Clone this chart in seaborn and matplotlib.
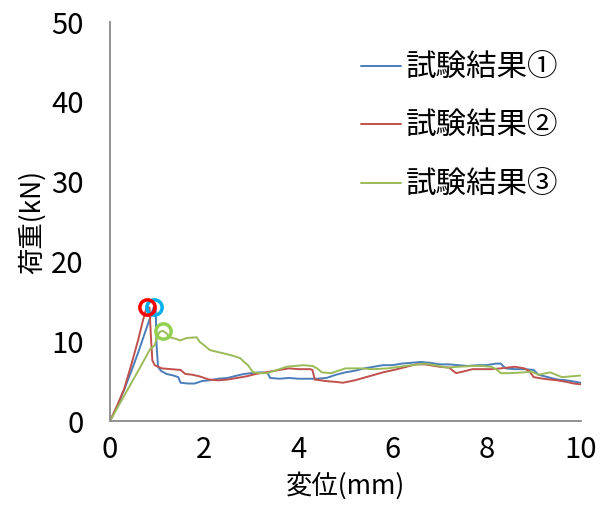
import pandas as pd
import numpy as np
import seaborn as sns
from matplotlib import pyplot as plt

# 試験結果① (blue)
x1 = [0, 0.15, 0.3, 0.45, 0.6, 0.75, 0.85, 0.93, 0.97, 0.99, 1.02, 1.08, 1.2, 1.35, 1.45, 1.5, 1.65, 1.8, 1.95, 2.1,
      2.3, 2.5, 2.7, 2.85, 3.0, 3.2, 3.35, 3.4, 3.6, 3.8, 4.0, 4.2, 4.4, 4.6, 4.8, 5.0, 5.2, 5.4, 5.6, 5.8,
      6.0, 6.2, 6.4, 6.6, 6.8, 7.0, 7.2, 7.4, 7.6, 7.8, 8.0, 8.2, 8.3, 8.4, 8.6, 8.8, 9.0, 9.1, 9.3, 9.5, 9.7, 9.9, 10.0]
y1 = [0, 1.8, 3.9, 6.2, 8.6, 11.2, 12.9, 14.3, 14.0, 9.5, 6.8, 6.3, 5.9, 5.7, 5.5, 4.8, 4.7, 4.7, 5.0, 5.1,
      5.3, 5.4, 5.7, 5.9, 6.0, 6.1, 6.0, 5.4, 5.3, 5.4, 5.3, 5.3, 5.3, 5.4, 5.8, 6.1, 6.3, 6.6, 6.8, 7.0,
      7.0, 7.2, 7.3, 7.4, 7.3, 7.1, 7.1, 7.0, 6.9, 7.0, 7.0, 7.2, 7.2, 6.6, 6.5, 6.5, 6.4, 5.8, 5.5, 5.2, 5.1, 4.9, 4.8]

# 試験結果② (red)
x2 = [0, 0.15, 0.3, 0.45, 0.6, 0.7, 0.78, 0.84, 0.87, 0.9, 0.95, 1.1, 1.3, 1.5, 1.6, 1.75, 1.9, 2.1, 2.3, 2.5,
      2.7, 2.9, 3.1, 3.3, 3.5, 3.8, 4.0, 4.25, 4.3, 4.35, 4.6, 4.8, 4.95, 5.2, 5.5, 5.8, 6.1, 6.3, 6.5, 6.7,
      7.0, 7.2, 7.35, 7.5, 7.7, 7.9, 8.1, 8.3, 8.6, 8.8, 8.9, 9.0, 9.2, 9.35, 9.5, 9.7, 9.85, 10.0]
y2 = [0, 1.9, 4.0, 7.0, 10.2, 12.6, 14.3, 14.2, 10.5, 7.6, 7.0, 6.6, 6.5, 6.4, 5.9, 5.8, 5.6, 5.2, 5.1, 5.2,
      5.4, 5.6, 5.9, 6.1, 6.3, 6.6, 6.5, 6.5, 6.4, 5.2, 5.0, 4.9, 4.8, 5.1, 5.6, 6.1, 6.5, 6.8, 7.1, 7.1,
      6.8, 6.7, 6.0, 6.2, 6.5, 6.5, 6.5, 6.6, 6.8, 6.6, 6.3, 5.5, 5.3, 5.2, 5.1, 4.9, 4.7, 4.6]

# 試験結果③ (green)
x3 = [0, 0.2, 0.4, 0.6, 0.75, 0.85, 0.95, 1.0, 1.06, 1.12, 1.2, 1.27, 1.4, 1.49, 1.63, 1.84, 1.91, 2.0, 2.12, 2.25,
      2.4, 2.6, 2.76, 2.85, 2.93, 3.04, 3.2, 3.33, 3.5, 3.75, 4.1, 4.3, 4.4, 4.5, 4.7, 5.0, 5.3, 5.6, 5.9, 6.15,
      6.4, 6.7, 6.9, 7.15, 7.4, 7.7, 7.9, 8.1, 8.2, 8.3, 8.5, 8.8, 8.95, 9.1, 9.35, 9.6, 9.8, 10.0]
y3 = [0, 2.1, 4.2, 6.3, 7.9, 9.0, 9.5, 10.6, 11.2, 11.3, 11.0, 10.5, 10.3, 10.1, 10.4, 10.5, 9.9, 9.5, 8.9, 8.7,
      8.5, 8.2, 7.9, 7.4, 7.0, 6.1, 6.0, 6.0, 6.3, 6.8, 7.0, 6.9, 6.6, 6.1, 6.0, 6.6, 6.6, 6.5, 6.6, 6.8,
      7.0, 7.2, 7.0, 6.7, 6.8, 6.9, 6.9, 6.8, 6.5, 6.0, 6.0, 6.1, 6.2, 5.8, 6.1, 5.5, 5.6, 5.7]

labels = ['試験結果①', '試験結果②', '試験結果③']
line_colors = ['#4A7EBB', '#C0504D', '#9BBB59']
peak_colors = ['#00B0F0', '#FF0000', '#92D050']

sns.set_style('white')
plt.rcParams['font.family'] = ['Noto Sans CJK JP', 'DejaVu Sans']
plt.rcParams['text.color'] = 'black'
plt.rcParams['axes.labelcolor'] = 'black'
plt.rcParams['xtick.labelcolor'] = 'black'
plt.rcParams['ytick.labelcolor'] = 'black'

df = pd.concat([
    pd.DataFrame({'x': x1, 'y': y1, 'series': labels[0]}),
    pd.DataFrame({'x': x2, 'y': y2, 'series': labels[1]}),
    pd.DataFrame({'x': x3, 'y': y3, 'series': labels[2]}),
])

fig, ax = plt.subplots(figsize=(6, 5.15), dpi=100)
fig.subplots_adjust(left=0.1833, right=0.968, bottom=0.1825, top=0.957)

sns.lineplot(data=df, x='x', y='y', hue='series', palette=line_colors,
             sort=False, estimator=None, linewidth=1.4, ax=ax)

# peak markers (hollow circles)
for xs, ys, c in zip([x1, x2, x3], [y1, y2, y3], peak_colors):
    i = int(np.argmax(ys))
    ax.plot(xs[i], ys[i], 'o', ms=11, mfc='none', mec=c, mew=2.5, zorder=5)

ax.set_xlim(0, 10)
ax.set_ylim(0, 50)
ax.set_xticks([0, 2, 4, 6, 8, 10])
ax.set_yticks([0, 10, 20, 30, 40, 50])

for s in ['top', 'right']:
    ax.spines[s].set_visible(False)
for s in ['left', 'bottom']:
    ax.spines[s].set_color('#898989')
    ax.spines[s].set_linewidth(1.3)

ax.tick_params(axis='both', direction='in', length=7, width=1.3, color='#898989', labelsize=21)
ax.tick_params(axis='y', pad=19)
ax.tick_params(axis='x', pad=10)

ax.set_xlabel('変位(mm)', fontsize=19, labelpad=5)
ax.set_ylabel('荷重(kN)', fontsize=19, labelpad=4)

ax.legend(frameon=False, fontsize=22, loc='upper left', bbox_to_anchor=(0.475, 0.993),
          handlelength=1.3, handletextpad=0.15, labelspacing=0.9)

plt.savefig('out.png', dpi=100)
